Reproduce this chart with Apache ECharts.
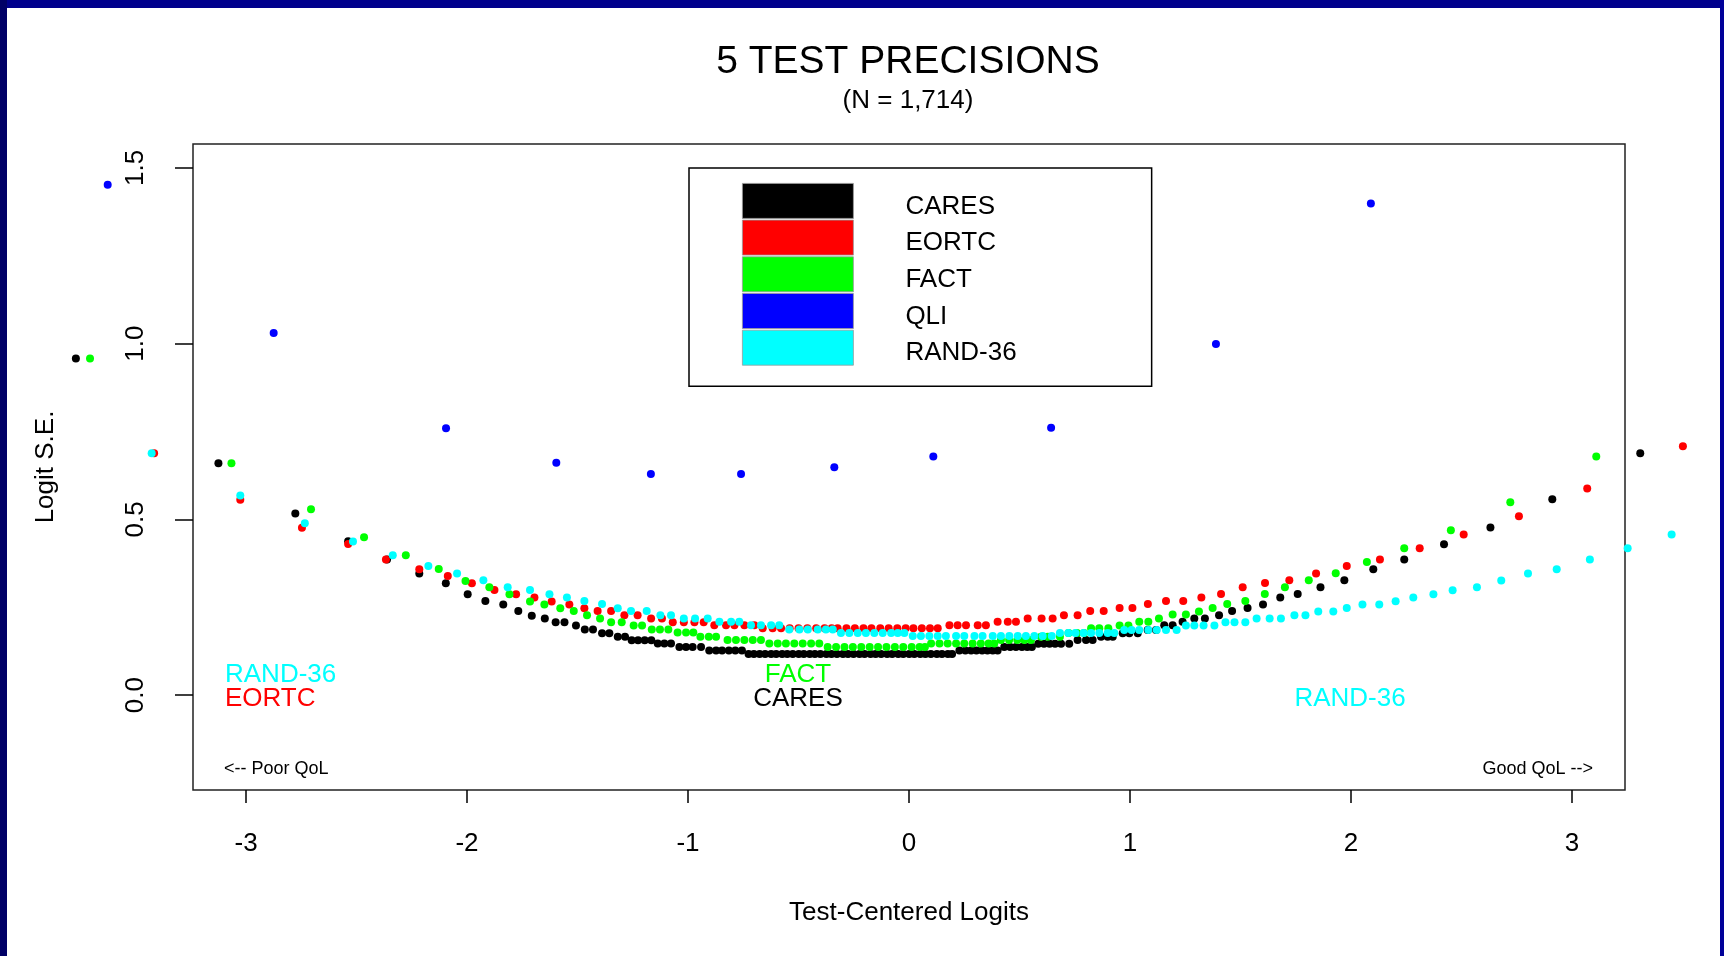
<!DOCTYPE html>
<html>
<head>
<meta charset="utf-8">
<style>
  html, body { margin: 0; padding: 0; background: #fff; }
  #chart { width: 1724px; height: 956px; }
</style>
<script src="https://cdn.jsdelivr.net/npm/echarts@6/dist/echarts.min.js"></script>
</head>
<body>
<div id="chart"></div>
<script>
// ---------- DATA ----------
const seriesNames = ['CARES', 'EORTC', 'FACT', 'QLI', 'RAND-36'];
const seriesColors = ['#000000', '#FF0000', '#00FF00', '#0000FF', '#00FFFF'];

const xTickValues = [-3, -2, -1, 0, 1, 2, 3];
const yTickValues = [0, 0.5, 1.0, 1.5];

const caresX = [-3.77, -3.125, -2.777, -2.538, -2.362, -2.216, -2.096, -1.997, -1.917, -1.836, -1.768, -1.707, -1.648,
  -1.599, -1.559, -1.507, -1.467, -1.430, -1.389, -1.356, -1.318, -1.285, -1.255, -1.226, -1.196, -1.166,
  -1.137, -1.107, -1.077, -1.039, -1.009, -0.979, -0.941, -0.904, -0.873, -0.846, -0.815, -0.786, -0.756,
  -0.726, -0.702, -0.676, -0.651, -0.624, -0.601, -0.574, -0.551, -0.526, -0.499, -0.476, -0.449, -0.426,
  -0.401, -0.374, -0.351, -0.326, -0.299, -0.276, -0.251, -0.224, -0.201, -0.174, -0.151, -0.126, -0.099,
  -0.076, -0.049, -0.026, 0.001, 0.024, 0.051, 0.074, 0.099, 0.126, 0.149, 0.176, 0.195,
  0.228, 0.255, 0.281, 0.305, 0.331, 0.355, 0.379, 0.401,
  0.431, 0.458, 0.484, 0.511, 0.535, 0.556,
  0.585, 0.611, 0.636, 0.661, 0.688, 0.725,
  0.763, 0.801, 0.831, 0.869, 0.899, 0.922, 0.967, 0.997, 1.035, 1.080, 1.118,
  1.155, 1.193, 1.238, 1.291, 1.339, 1.403, 1.462, 1.532, 1.602, 1.680, 1.759, 1.862, 1.970, 2.101,
  2.241, 2.421, 2.631, 2.911, 3.309];
const caresY = [0.958, 0.660, 0.517, 0.438, 0.386, 0.346, 0.318, 0.287, 0.268, 0.258, 0.239, 0.226, 0.218,
  0.207, 0.207, 0.198, 0.187, 0.187, 0.176, 0.176, 0.166, 0.166, 0.156, 0.156, 0.156, 0.156,
  0.147, 0.147, 0.147, 0.137, 0.137, 0.137, 0.137, 0.127, 0.127, 0.127, 0.127, 0.127, 0.127,
  0.117, 0.117, 0.117, 0.117, 0.117, 0.117, 0.117, 0.117, 0.117, 0.117, 0.117, 0.117, 0.117,
  0.117, 0.117, 0.117, 0.117, 0.117, 0.117, 0.117, 0.117, 0.117, 0.117, 0.117, 0.117, 0.117,
  0.117, 0.117, 0.117, 0.117, 0.117, 0.117, 0.117, 0.117, 0.117, 0.117, 0.117, 0.117,
  0.127, 0.127, 0.127, 0.127, 0.127, 0.127, 0.127, 0.127,
  0.137, 0.137, 0.137, 0.137, 0.137, 0.137,
  0.146, 0.146, 0.146, 0.146, 0.146, 0.146,
  0.157, 0.157, 0.157, 0.166, 0.166, 0.166, 0.176, 0.176, 0.176, 0.185, 0.185,
  0.199, 0.199, 0.209, 0.218, 0.218, 0.227, 0.239, 0.248, 0.258, 0.278, 0.288, 0.307, 0.327, 0.358,
  0.386, 0.429, 0.477, 0.557, 0.688];

const eortcX = [-3.416, -3.026, -2.747, -2.538, -2.367, -2.216, -2.087, -1.978, -1.876, -1.778, -1.695, -1.617,
  -1.537, -1.469, -1.409, -1.348, -1.288, -1.228, -1.167, -1.118, -1.069, -1.019, -0.971, -0.929,
  -0.881, -0.828, -0.790, -0.745, -0.700,
  -0.662, -0.617, -0.579, -0.540, -0.500, -0.460, -0.420, -0.382, -0.350, -0.323, -0.283, -0.245, -0.206,
  -0.170, -0.130, -0.092, -0.053, -0.015, 0.020, 0.058, 0.095, 0.130,
  0.183, 0.220, 0.258, 0.311, 0.348, 0.401, 0.447, 0.484, 0.537, 0.600, 0.650, 0.701, 0.763, 0.820, 0.881,
  0.953, 1.011, 1.081, 1.163, 1.241, 1.323, 1.412, 1.510, 1.611, 1.721, 1.842, 1.981, 2.131, 2.311, 2.510,
  2.760, 3.069, 3.502];
const eortcY = [0.688, 0.556, 0.476, 0.430, 0.386, 0.358, 0.339, 0.318, 0.299, 0.287, 0.278, 0.266,
  0.258, 0.247, 0.239, 0.239, 0.227, 0.227, 0.218, 0.218, 0.207, 0.207, 0.207, 0.207,
  0.199, 0.199, 0.199, 0.199, 0.199,
  0.190, 0.190, 0.190, 0.190, 0.190, 0.190, 0.190, 0.190, 0.190, 0.190, 0.190, 0.190, 0.190,
  0.190, 0.190, 0.190, 0.190, 0.190, 0.190, 0.190, 0.190, 0.190,
  0.199, 0.199, 0.199, 0.199, 0.199, 0.209, 0.209, 0.209, 0.218, 0.218, 0.218, 0.227, 0.227, 0.239, 0.239,
  0.248, 0.248, 0.259, 0.268, 0.268, 0.278, 0.288, 0.307, 0.319, 0.327, 0.346, 0.367, 0.386, 0.418, 0.457,
  0.509, 0.588, 0.708];

const factX = [-3.706, -3.066, -2.706, -2.466, -2.277, -2.128, -2.007, -1.899, -1.808, -1.715, -1.650, -1.578,
  -1.517, -1.457, -1.398, -1.348, -1.300, -1.246, -1.208, -1.164, -1.127, -1.089, -1.047, -1.009, -0.976,
  -0.944, -0.906, -0.873, -0.821, -0.783, -0.745, -0.707, -0.670,
  -0.632, -0.594, -0.557, -0.519, -0.481, -0.443, -0.406,
  -0.368, -0.330, -0.292, -0.254, -0.216, -0.178, -0.140, -0.102, -0.064, -0.026, 0.012, 0.048, 0.072,
  0.100, 0.138, 0.175, 0.213, 0.250, 0.288, 0.325, 0.360, 0.386,
  0.416, 0.453, 0.490, 0.522, 0.552, 0.597, 0.628, 0.683, 0.722, 0.760, 0.792,
  0.824, 0.861, 0.902, 0.953, 0.993, 1.042, 1.083, 1.131, 1.193, 1.253, 1.312, 1.374, 1.440, 1.522,
  1.610, 1.701, 1.809, 1.931, 2.072, 2.241, 2.452, 2.721, 3.110];
const factY = [0.958, 0.660, 0.529, 0.449, 0.398, 0.359, 0.325, 0.307, 0.287, 0.266, 0.258, 0.247,
  0.239, 0.227, 0.218, 0.207, 0.207, 0.198, 0.198, 0.187, 0.187, 0.187, 0.178, 0.178, 0.178,
  0.166, 0.166, 0.166, 0.157, 0.157, 0.157, 0.157, 0.157,
  0.147, 0.147, 0.147, 0.147, 0.147, 0.147, 0.147,
  0.137, 0.137, 0.137, 0.137, 0.137, 0.137, 0.137, 0.137, 0.137, 0.137, 0.137, 0.137, 0.137,
  0.147, 0.147, 0.147, 0.147, 0.147, 0.147, 0.147, 0.147, 0.147,
  0.157, 0.157, 0.157, 0.157, 0.157, 0.166, 0.166, 0.166, 0.177, 0.177, 0.177,
  0.190, 0.190, 0.190, 0.198, 0.198, 0.209, 0.209, 0.218, 0.229, 0.229, 0.238, 0.248, 0.259, 0.268,
  0.288, 0.307, 0.327, 0.347, 0.379, 0.418, 0.469, 0.549, 0.679];

const qliX = [-3.626, -2.875, -2.095, -1.596, -1.168, -0.760, -0.338, 0.110, 0.643, 1.389, 2.090];
const qliY = [1.452, 1.030, 0.759, 0.661, 0.629, 0.629, 0.648, 0.679, 0.761, 0.999, 1.399];

const randX = [-3.427, -3.026, -2.734, -2.516, -2.336, -2.175, -2.045, -1.926, -1.816, -1.715, -1.627, -1.548,
  -1.469, -1.389, -1.318, -1.258, -1.187, -1.125, -1.077, -1.019, -0.968, -0.911, -0.858, -0.805, -0.768,
  -0.715, -0.670, -0.624, -0.587, -0.542, -0.496, -0.458, -0.413, -0.376, -0.345,
  -0.308, -0.270, -0.232, -0.195, -0.157, -0.119, -0.081, -0.051, -0.021,
  0.017, 0.054, 0.092, 0.130, 0.167, 0.213, 0.250, 0.296, 0.333, 0.379, 0.416, 0.454, 0.492, 0.529, 0.567,
  0.605, 0.646, 0.683, 0.721, 0.753, 0.790, 0.824, 0.861, 0.899, 0.929,
  0.974, 1.007, 1.042, 1.083, 1.121, 1.163, 1.211, 1.253, 1.291, 1.333, 1.382, 1.432, 1.473, 1.522,
  1.573, 1.632, 1.683, 1.744, 1.794, 1.852, 1.920, 1.981, 2.052, 2.128, 2.202, 2.282, 2.373, 2.460,
  2.570, 2.680, 2.801, 2.931, 3.081, 3.252, 3.451];
const randY = [0.688, 0.568, 0.489, 0.437, 0.398, 0.367, 0.346, 0.327, 0.307, 0.299, 0.287, 0.278,
  0.268, 0.259, 0.247, 0.239, 0.239, 0.227, 0.227, 0.218, 0.218, 0.218, 0.209, 0.209, 0.209,
  0.199, 0.199, 0.199, 0.199, 0.187, 0.187, 0.187, 0.187, 0.187, 0.187,
  0.177, 0.177, 0.177, 0.177, 0.177, 0.177, 0.177, 0.177, 0.177,
  0.168, 0.168, 0.168, 0.168, 0.168, 0.168, 0.168, 0.168, 0.168, 0.168, 0.168, 0.168, 0.168, 0.168, 0.168,
  0.168, 0.168, 0.177, 0.177, 0.177, 0.177, 0.177, 0.177, 0.177, 0.177,
  0.185, 0.185, 0.185, 0.185, 0.185, 0.185, 0.185, 0.198, 0.198, 0.198, 0.198, 0.207, 0.207, 0.207,
  0.218, 0.218, 0.218, 0.227, 0.227, 0.238, 0.238, 0.248, 0.258, 0.258, 0.267, 0.278, 0.287, 0.298,
  0.307, 0.326, 0.346, 0.358, 0.386, 0.418, 0.457];

// ---------- build ----------
function zip(xs, ys) { return xs.map((x, i) => [x, ys[i]]); }
const allX = [caresX, eortcX, factX, qliX, randX];
const allY = [caresY, eortcY, factY, qliY, randY];

const FONT = '"Liberation Sans", Arial, Helvetica, sans-serif';

const chart = echarts.init(document.getElementById('chart'), null, { renderer: 'canvas' });

const series = seriesNames.map((name, i) => ({
  name: name,
  type: 'scatter',
  data: zip(allX[i], allY[i]),
  symbol: 'circle',
  symbolSize: 8,
  clip: false,
  itemStyle: { color: seriesColors[i], opacity: 1 },
  emphasis: { disabled: true },
  silent: true,
  z: 3
}));

const option = {
  backgroundColor: '#ffffff',
  animation: false,
  title: {
    text: '5 TEST PRECISIONS',
    subtext: '(N = 1,714)',
    left: 908,
    top: 43,
    padding: 0,
    textAlign: 'center',
    itemGap: 6,
    textStyle: { fontFamily: FONT, fontSize: 39, fontWeight: 'normal', color: '#000' },
    subtextStyle: { fontFamily: FONT, fontSize: 26, color: '#000' }
  },
  legend: {
    data: seriesNames,
    orient: 'vertical',
    left: 689,
    top: 168,
    padding: [15, 135, 20, 53],
    itemWidth: 111,
    itemHeight: 35,
    itemGap: 0.3,
    icon: 'rect',
    selectedMode: false,
    borderColor: '#000',
    borderWidth: 1.5,
    backgroundColor: '#fff',
    itemStyle: { borderColor: '#999', borderWidth: 0.8 },
    formatter: '{t|{name}}',
    textStyle: {
      fontFamily: FONT, fontSize: 26, color: '#000',
      rich: { t: { fontFamily: FONT, fontSize: 26, color: '#000', padding: [11, 0, 0, 47] } }
    }
  },
  grid: {
    left: 193, top: 144, width: 1432, height: 646,
    show: true, borderColor: '#222', borderWidth: 1.5, backgroundColor: 'transparent',
    containLabel: false
  },
  xAxis: {
    type: 'value',
    min: -3.24, max: 3.24,
    position: 'bottom',
    name: 'Test-Centered Logits',
    nameLocation: 'middle',
    nameGap: 110,
    nameTextStyle: { fontFamily: FONT, fontSize: 26, color: '#000' },
    axisLine: { show: false, onZero: false },
    axisTick: { show: true, customValues: xTickValues, length: 13, lineStyle: { color: '#000', width: 1.5 } },
    axisLabel: { customValues: xTickValues, fontFamily: FONT, fontSize: 26, color: '#000', margin: 41,
      formatter: v => String(v) },
    splitLine: { show: false }
  },
  yAxis: {
    type: 'value',
    min: -0.27, max: 1.568,
    position: 'left',
    name: 'Logit S.E.',
    nameLocation: 'middle',
    nameGap: 134,
    nameTextStyle: { fontFamily: FONT, fontSize: 26, color: '#000' },
    axisLine: { show: false, onZero: false },
    axisTick: { show: true, customValues: yTickValues, length: 18, lineStyle: { color: '#000', width: 1.5 } },
    axisLabel: { customValues: yTickValues, rotate: 90, fontFamily: FONT, fontSize: 26, color: '#000', margin: 44,
      formatter: v => v.toFixed(1) },
    splitLine: { show: false }
  },
  graphic: [
    { type: 'rect', shape: { x: 0, y: 0, width: 1724, height: 8 }, style: { fill: '#00008c' }, z: 100 },
    { type: 'rect', shape: { x: 0, y: 0, width: 7, height: 956 }, style: { fill: '#000066' }, z: 100 },
    { type: 'rect', shape: { x: 1720, y: 0, width: 4, height: 956 }, style: { fill: '#000099' }, z: 100 },
    { type: 'text', x: 225, y: 675, style: { text: 'RAND-36', fill: '#00FFFF', font: '26px ' + FONT, textAlign: 'left', textVerticalAlign: 'middle' }, z: 50 },
    { type: 'text', x: 225, y: 699, style: { text: 'EORTC', fill: '#FF0000', font: '26px ' + FONT, textAlign: 'left', textVerticalAlign: 'middle' }, z: 50 },
    { type: 'text', x: 798, y: 675, style: { text: 'FACT', fill: '#00FF00', font: '26px ' + FONT, textAlign: 'center', textVerticalAlign: 'middle' }, z: 50 },
    { type: 'text', x: 798, y: 699, style: { text: 'CARES', fill: '#000000', font: '26px ' + FONT, textAlign: 'center', textVerticalAlign: 'middle' }, z: 50 },
    { type: 'text', x: 1350, y: 699, style: { text: 'RAND-36', fill: '#00FFFF', font: '26px ' + FONT, textAlign: 'center', textVerticalAlign: 'middle' }, z: 50 },
    { type: 'text', x: 224, y: 769, style: { text: '<-- Poor QoL', fill: '#000', font: '18px ' + FONT, textAlign: 'left', textVerticalAlign: 'middle' }, z: 50 },
    { type: 'text', x: 1593, y: 769, style: { text: 'Good QoL -->', fill: '#000', font: '18px ' + FONT, textAlign: 'right', textVerticalAlign: 'middle' }, z: 50 }
  ],
  series: series
};

chart.setOption(option);
</script>
</body>
</html>
